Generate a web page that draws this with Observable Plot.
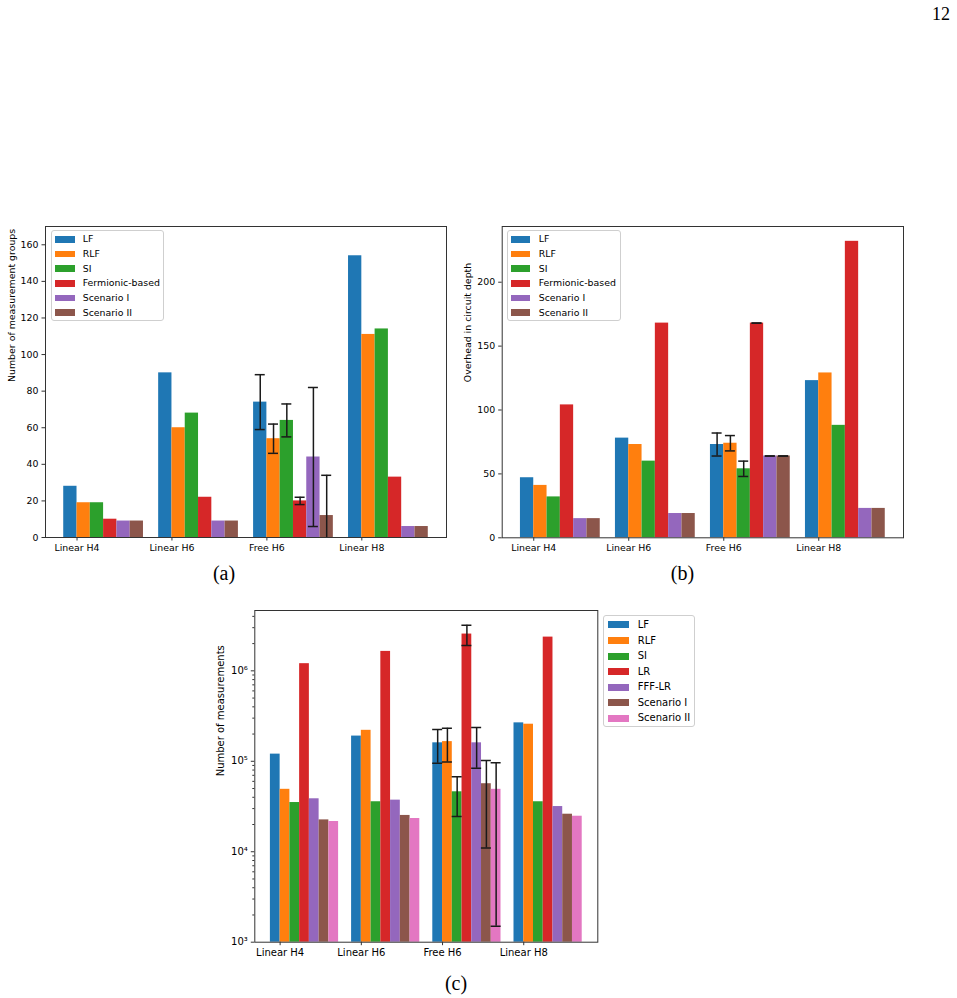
<!DOCTYPE html>
<html>
<head>
<meta charset="utf-8">
<script src="https://cdn.jsdelivr.net/npm/d3@7"></script>
<script src="https://cdn.jsdelivr.net/npm/@observablehq/plot@0.6"></script>
<style>
  body { margin: 0; background: #fff; }
  #page { position: relative; width: 957px; height: 998px; overflow: hidden; font-family: "DejaVu Sans", sans-serif; color: #000; }
  .panel { position: absolute; }
  .legend { position: absolute; background: rgba(255,255,255,0.8); border: 1px solid #cfcfcf; border-radius: 3px; box-sizing: border-box; }
  .legend .sw { position: absolute; }
  .legend .lb { position: absolute; white-space: nowrap; transform: translateY(-50%); line-height: 1; }
  .cap { position: absolute; font-family: "Liberation Serif", serif; transform: translate(-50%, -50%); white-space: nowrap; line-height: 1; }
</style>
</head>
<body>
<div id="page"></div>
<script>
// Shared categories and colours (matplotlib tab10)
const categories = ["Linear H4", "Linear H6", "Free H6", "Linear H8"];
const colors = ["#1f77b4", "#ff7f0e", "#2ca02c", "#d62728", "#9467bd", "#8c564b", "#e377c2"];

// (a) number of measurement groups
const seriesA = ["LF", "RLF", "SI", "Fermionic-based", "Scenario I", "Scenario II"];
const groupsLF = [28, 90, 74, 154];
const groupsRLF = [19, 60, 54, 111];
const groupsSI = [19, 68, 64, 114];
const groupsFermionic = [10, 22, 20, 33];
const groupsScenarioI = [9, 9, 44, 6];
const groupsScenarioII = [9, 9, 12, 6];
const groupsErrFreeH6 = [15, 8, 9, 2, 38, 22];
const yTicksA = [0, 20, 40, 60, 80, 100, 120, 140, 160];

// (b) overhead in circuit depth
const seriesB = seriesA;
const depthLF = [47, 78, 73, 123];
const depthRLF = [41, 73, 74, 129];
const depthSI = [32, 60, 54, 88];
const depthFermionic = [104, 168, 168, 232];
const depthScenarioI = [15, 19, 64, 23];
const depthScenarioII = [15, 19, 64, 23];
const depthErrFreeH6 = [9, 6, 6, 0, 0, 0];
const yTicksB = [0, 50, 100, 150, 200];

// (c) number of measurements (log scale)
const seriesC = ["LF", "RLF", "SI", "LR", "FFF-LR", "Scenario I", "Scenario II"];
const measLF = [1.2e5, 1.9e5, 1.6e5, 2.66e5];
const measRLF = [4.9e4, 2.2e5, 1.65e5, 2.57e5];
const measSI = [3.5e4, 3.57e4, 4.6e4, 3.57e4];
const measLR = [1.2e6, 1.64e6, 2.55e6, 2.36e6];
const measFFFLR = [3.85e4, 3.72e4, 1.6e5, 3.16e4];
const measScenarioI = [2.25e4, 2.52e4, 5.65e4, 2.6e4];
const measScenarioII = [2.16e4, 2.33e4, 4.9e4, 2.47e4];
const measErrFreeH6 = [6.5e4, 6.7e4, 2.15e4, 6.5e5, 7.6e4, 4.55e4, 4.75e4];
const yTicksC = [1e3, 1e4, 1e5, 1e6];
const supDigits = {3: "³", 4: "⁴", 5: "⁵", 6: "⁶"};

const page = document.getElementById("page");
const errCategory = categories.indexOf("Free H6");

function barPanel(cfg) {
  const {series, values, errs, barWidth, xDomain, yType, yDomain, yTicks, yMinorTicks,
         yTickFormat, base, ylabel, labelDx, fontSize, width, height, margin} = cfg;
  const rows = [];
  series.forEach((s, i) => categories.forEach((c, j) => {
    rows.push({s, i, j, v: values[i][j], e: j === errCategory ? errs[i] : null});
  }));
  const errRows = rows.filter(d => d.e != null);
  const left = d => d.j + (d.i - 1) * barWidth;
  const right = d => d.j + d.i * barWidth;
  const mid = d => d.j + (d.i - 0.5) * barWidth;
  const ink = "#1a1a1a";
  const marks = [
    Plot.rectY(rows, {x1: left, x2: right, y1: () => base, y2: "v", fill: "s"}),
    Plot.ruleX(errRows, {x: mid, y1: d => d.v - d.e, y2: d => d.v + d.e, stroke: ink, strokeWidth: 1.5, clip: true}),
    Plot.ruleY(errRows, {y: d => d.v + d.e, x1: mid, x2: mid, insetLeft: -5, insetRight: -5, stroke: ink, strokeWidth: 1.5, clip: true}),
    Plot.ruleY(errRows, {y: d => d.v - d.e, x1: mid, x2: mid, insetLeft: -5, insetRight: -5, stroke: ink, strokeWidth: 1.5, clip: true}),
    Plot.frame({stroke: "#333", strokeWidth: 1}),
    Plot.axisX({ticks: categories.map((c, j) => j), tickFormat: j => categories[j], label: null, tickSize: 3.5, tickPadding: 3, stroke: "#333", fill: "#000", fontSize}),
    Plot.axisY({ticks: yTicks, tickFormat: yTickFormat, label: null, tickSize: 3.5, tickPadding: 3.5, stroke: "#333", fill: "#000", fontSize}),
    Plot.text([ylabel], {frameAnchor: "left", dx: labelDx, rotate: -90, fontSize, fill: "#000"})
  ];
  if (yMinorTicks) {
    marks.push(Plot.axisY({ticks: yMinorTicks, tickFormat: () => "", label: null, tickSize: 2, stroke: "#333"}));
  }
  return Plot.plot({
    width, height,
    marginLeft: margin[0], marginRight: margin[1], marginTop: margin[2], marginBottom: margin[3],
    style: {fontFamily: "DejaVu Sans, sans-serif", fontSize: fontSize + "px", background: "transparent", overflow: "visible"},
    x: {type: "linear", domain: xDomain, label: null},
    y: {type: yType, domain: yDomain, label: null},
    color: {domain: series, range: colors.slice(0, series.length)},
    marks
  });
}

function place(node, left, top) {
  const wrap = document.createElement("div");
  wrap.className = "panel";
  wrap.style.left = left + "px";
  wrap.style.top = top + "px";
  wrap.appendChild(node);
  page.appendChild(wrap);
}

function legend(series, box, rowFirst, rowStep, swLeft, swW, swH, textLeft, fontSize) {
  const el = document.createElement("div");
  el.className = "legend";
  Object.assign(el.style, {left: box[0] + "px", top: box[1] + "px", width: box[2] + "px", height: box[3] + "px", fontSize: fontSize + "px"});
  series.forEach((s, i) => {
    const cy = rowFirst + i * rowStep;
    const sw = document.createElement("div");
    sw.className = "sw";
    Object.assign(sw.style, {left: swLeft + "px", top: (cy - swH / 2) + "px", width: swW + "px", height: swH + "px", background: colors[i]});
    const lb = document.createElement("div");
    lb.className = "lb";
    Object.assign(lb.style, {left: textLeft + "px", top: cy + "px"});
    lb.textContent = s;
    el.appendChild(sw);
    el.appendChild(lb);
  });
  page.appendChild(el);
}

function caption(text, x, y, size) {
  const el = document.createElement("div");
  el.className = "cap";
  Object.assign(el.style, {left: x + "px", top: y + "px", fontSize: size + "px"});
  el.textContent = text;
  page.appendChild(el);
}

// Panel (a)
place(barPanel({
  series: seriesA,
  values: [groupsLF, groupsRLF, groupsSI, groupsFermionic, groupsScenarioI, groupsScenarioII],
  errs: groupsErrFreeH6,
  barWidth: 0.14, xDomain: [-0.332, 3.892],
  yType: "linear", yDomain: [0, 170], yTicks: yTicksA, yTickFormat: d => String(d), base: 0,
  ylabel: "Number of measurement groups", labelDx: -33.3, fontSize: 9.4,
  width: 460, height: 350, margin: [45, 14, 11, 28]
}), 0, 215);
legend(seriesA, [50.7, 230.3, 113.6, 90.4], 8, 14.67, 3.6, 19.4, 6.5, 31, 9.4);

// Panel (b)
place(barPanel({
  series: seriesB,
  values: [depthLF, depthRLF, depthSI, depthFermionic, depthScenarioI, depthScenarioII],
  errs: depthErrFreeH6,
  barWidth: 0.14, xDomain: [-0.332, 3.892],
  yType: "linear", yDomain: [0, 243.6], yTicks: yTicksB, yTickFormat: d => String(d), base: 0,
  ylabel: "Overhead in circuit depth", labelDx: -34.4, fontSize: 9.4,
  width: 460, height: 350, margin: [41.7, 17, 11, 27.7]
}), 460, 215);
legend(seriesB, [506.7, 230.3, 114, 90.4], 8, 14.67, 3.3, 19.4, 6.5, 31, 9.4);

// Panel (c)
const minorC = [];
for (let k = 3; k <= 6; k++) for (let m = 2; m <= 9; m++) if (m * 10 ** k < 4.6e6) minorC.push(m * 10 ** k);
place(barPanel({
  series: seriesC,
  values: [measLF, measRLF, measSI, measLR, measFFFLR, measScenarioI, measScenarioII],
  errs: measErrFreeH6,
  barWidth: 0.12, xDomain: [-0.312, 3.912],
  yType: "log", yDomain: [1e3, 10 ** 6.667], yTicks: yTicksC, yMinorTicks: minorC,
  yTickFormat: d => "10" + supDigits[Math.round(Math.log10(d))], base: 1e3,
  ylabel: "Number of measurements", labelDx: -34.3, fontSize: 10,
  width: 400, height: 365, margin: [54.3, 2.7, 10, 23.3]
}), 200, 600);
legend(seriesC, [603.3, 615.3, 91.4, 111.4], 8.7, 15.55, 4, 21, 7, 33.4, 10);

// Page number and sub-figure captions
const pn = document.createElement("div");
pn.className = "cap";
Object.assign(pn.style, {left: "941px", top: "14px", fontSize: "18px"});
pn.textContent = "12";
page.appendChild(pn);
caption("(a)", 224, 573, 20);
caption("(b)", 682.5, 573, 20);
caption("(c)", 456, 983, 20);
</script>
</body>
</html>
